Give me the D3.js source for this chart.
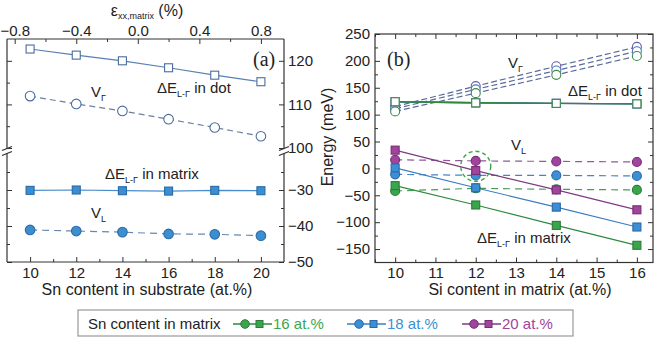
<!DOCTYPE html>
<html><head><meta charset="utf-8">
<script src="https://cdn.jsdelivr.net/npm/d3@7"></script>
<style>
body{margin:0;background:#fff}
text{font-family:"Liberation Sans",Arial,sans-serif;fill:#222}
</style>
</head><body>
<svg id="c" width="660" height="339"></svg>
<script>
// ---------- data: panel (a) ----------
const snSubstrate = [10, 12, 14, 16, 18, 20];
const gapDotA = [122.7, 121.3, 120.0, 118.4, 116.7, 115.2];
const vGammaA = [111.9, 110.1, 108.5, 106.6, 104.7, 102.7];
const gapMatrixA = [-30.1, -30.0, -30.2, -30.3, -30.1, -30.2];
const vLA = [-41.1, -41.4, -41.7, -42.2, -42.3, -42.7];
const strainTicks = [-0.8, -0.4, 0.0, 0.4, 0.8];
const subTicksA = [10, 12, 14, 16, 18, 20];
const upperTicksA = [100, 110, 120];
const lowerTicksA = [-50, -40, -30];

// ---------- data: panel (b) ----------
const siContent = [10, 12, 14, 16];
const snMatrix = ["16 at.%", "18 at.%", "20 at.%"];
const vGammaB16 = [106, 140, 174, 209];
const vGammaB18 = [111, 147, 182, 218];
const vGammaB20 = [115, 153, 190, 226];
const gapDotB16 = [124, 122, 121, 120];
const gapDotB18 = [124, 122, 121, 120];
const gapDotB20 = [124, 122, 121, 120];
const vLB16 = [-42, -37, -39, -40];
const vLB18 = [-11, -13, -13, -14];
const vLB20 = [16, 14, 13, 12];
const gapMatrixB16 = [-32, -68, -106, -143];
const gapMatrixB18 = [1, -36, -72, -109];
const gapMatrixB20 = [34, -4, -40, -77];
const energyTicksB = [-150, -100, -50, 0, 50, 100, 150, 200, 250];
const siTicksB = [10, 11, 12, 13, 14, 15, 16];

const svg = d3.select("#c");
const F = 15;

function styleAxis(g){
  g.select(".domain").remove();
  g.selectAll("line").attr("stroke","#333").attr("stroke-width",1);
  g.selectAll("text").attr("font-size",F).attr("fill","#222")
   .attr("font-family",'"Liberation Sans",Arial,sans-serif');
  return g;
}
function subLabel(x, y, main, sub, rest, size){
  size = size || F;
  const t = svg.append("text").attr("x",x).attr("y",y).attr("font-size",size);
  t.append("tspan").text(main);
  t.append("tspan").attr("dy",4).attr("font-size",size*0.6).text(sub);
  if (rest) t.append("tspan").attr("dy",-4).text(rest);
  return t;
}
function squares(g, xs, ys, sx, sy, s, fill, stroke){
  g.selectAll(null).data(xs.map((x,i)=>[x,ys[i]])).join("rect")
   .attr("x",d=>sx(d[0])-s/2).attr("y",d=>sy(d[1])-s/2)
   .attr("width",s).attr("height",s)
   .attr("fill",fill).attr("stroke",stroke).attr("stroke-width",1.1);
}
function circles(g, xs, ys, sx, sy, r, fill, stroke){
  g.selectAll(null).data(xs.map((x,i)=>[x,ys[i]])).join("circle")
   .attr("cx",d=>sx(d[0])).attr("cy",d=>sy(d[1])).attr("r",r)
   .attr("fill",fill).attr("stroke",stroke).attr("stroke-width",1.1);
}
function path(g, xs, ys, sx, sy, color, dash, w){
  const line = d3.line().x(d=>sx(d[0])).y(d=>sy(d[1]));
  g.append("path").datum(xs.map((x,i)=>[x,ys[i]])).attr("d",line)
   .attr("fill","none").attr("stroke",color).attr("stroke-width",w||1.2)
   .attr("stroke-dasharray",dash||null);
}

// ================= Panel (a) =================
const L = 7, R = 284, T = 39, B = 262;
const xA = d3.scaleLinear().domain([9, 21]).range([L, R]);
const xTopA = d3.scaleLinear().domain([-0.85, 0.95]).range([L, R]);
const yUp = d3.scaleLinear().domain([100, 125]).range([148, T]);
const yLo = d3.scaleLinear().domain([-50, -20]).range([B, 154]);

styleAxis(svg.append("g").attr("transform",`translate(0,${B})`)
  .call(d3.axisBottom(xA).tickValues(subTicksA).tickSize(-5).tickPadding(5).tickFormat(d3.format("d"))));
styleAxis(svg.append("g").attr("transform",`translate(0,${B})`)
  .call(d3.axisBottom(xA).tickValues([11,13,15,17,19]).tickSize(-3).tickFormat("")));
styleAxis(svg.append("g").attr("transform",`translate(0,${T})`)
  .call(d3.axisTop(xTopA).tickValues(strainTicks).tickSize(-5).tickPadding(3).tickFormat(d3.format(".1f"))));
styleAxis(svg.append("g").attr("transform",`translate(0,${T})`)
  .call(d3.axisTop(xTopA).tickValues([-0.6,-0.2,0.2,0.6]).tickSize(-3).tickFormat("")));
styleAxis(svg.append("g").attr("transform",`translate(${R},0)`)
  .call(d3.axisRight(yUp).tickValues(upperTicksA).tickSize(-5).tickPadding(4).tickFormat(d3.format("d"))));
styleAxis(svg.append("g").attr("transform",`translate(${R},0)`)
  .call(d3.axisRight(yUp).tickValues([105,115]).tickSize(-3).tickFormat("")));
styleAxis(svg.append("g").attr("transform",`translate(${R},0)`)
  .call(d3.axisRight(yLo).tickValues(lowerTicksA).tickSize(-5).tickPadding(4).tickFormat(d3.format("d"))));
styleAxis(svg.append("g").attr("transform",`translate(${R},0)`)
  .call(d3.axisRight(yLo).tickValues([-45,-35,-25]).tickSize(-3).tickFormat("")));
styleAxis(svg.append("g").attr("transform",`translate(${L},0)`)
  .call(d3.axisLeft(yUp).tickValues(upperTicksA).tickSize(-5).tickFormat("")));
styleAxis(svg.append("g").attr("transform",`translate(${L},0)`)
  .call(d3.axisLeft(yUp).tickValues([105,115]).tickSize(-3).tickFormat("")));
styleAxis(svg.append("g").attr("transform",`translate(${L},0)`)
  .call(d3.axisLeft(yLo).tickValues(lowerTicksA).tickSize(-5).tickFormat("")));
styleAxis(svg.append("g").attr("transform",`translate(${L},0)`)
  .call(d3.axisLeft(yLo).tickValues([-45,-35,-25]).tickSize(-3).tickFormat("")));

const fr = svg.append("g").attr("stroke","#333").attr("stroke-width",1.2).attr("fill","none");
fr.append("line").attr("x1",L).attr("x2",R).attr("y1",T).attr("y2",T);
fr.append("line").attr("x1",L).attr("x2",R).attr("y1",B).attr("y2",B);
[L,R].forEach(x=>{
  fr.append("line").attr("x1",x).attr("x2",x).attr("y1",T).attr("y2",149);
  fr.append("line").attr("x1",x).attr("x2",x).attr("y1",153.5).attr("y2",B);
  fr.append("line").attr("x1",x-5).attr("x2",x+5).attr("y1",150.5).attr("y2",146.5);
  fr.append("line").attr("x1",x-5).attr("x2",x+5).attr("y1",155.5).attr("y2",151.5);
});

const gA = svg.append("g");
const cOpen = "#4a6c9c", cFill = "#3b8fd0", cFillS = "#2a6aa5";
path(gA, snSubstrate, gapDotA, xA, yUp, "#5a7fb5");
path(gA, snSubstrate, vGammaA, xA, yUp, "#6a7fa5", "6,4");
path(gA, snSubstrate, gapMatrixA, xA, yLo, "#4a8ccc");
path(gA, snSubstrate, vLA, xA, yLo, "#6a86ad", "7,5");
squares(gA, snSubstrate, gapDotA, xA, yUp, 8, "#fff", cOpen);
circles(gA, snSubstrate, vGammaA, xA, yUp, 4.8, "#fff", cOpen);
squares(gA, snSubstrate, gapMatrixA, xA, yLo, 8, cFill, cFillS);
circles(gA, snSubstrate, vLA, xA, yLo, 4.8, cFill, cFillS);

svg.append("text").attr("x",253).attr("y",66).attr("font-size",20)
  .style("font-family",'"Liberation Serif","Times New Roman",serif').text("(a)");
subLabel(157, 93, "ΔE", "L-Γ", " in dot");
subLabel(91, 97, "V", "Γ");
subLabel(105, 179, "ΔE", "L-Γ", " in matrix");
subLabel(91, 218, "V", "L");

const tTop = svg.append("text").attr("x",147).attr("y",16).attr("text-anchor","middle").attr("font-size",16);
tTop.append("tspan").text("ε");
tTop.append("tspan").attr("dy",3).attr("font-size",9).text("xx,matrix");
tTop.append("tspan").attr("dy",-3).text(" (%)");
svg.append("text").attr("x",147).attr("y",295).attr("text-anchor","middle").attr("font-size",16)
  .text("Sn content in substrate (at.%)");

// ================= Panel (b) =================
const L2 = 375, R2 = 653, T2 = 34, B2 = 262.5;
const xB = d3.scaleLinear().domain([9.5, 16.4]).range([L2, R2]);
const yB = d3.scaleLinear().domain([-175, 250]).range([B2, T2]);
const halfTicks = [9.5,10.5,11.5,12.5,13.5,14.5,15.5];
const minorE = [-125,-75,-25,25,75,125,175,225];

styleAxis(svg.append("g").attr("transform",`translate(0,${B2})`)
  .call(d3.axisBottom(xB).tickValues(siTicksB).tickSize(-5).tickPadding(5).tickFormat(d3.format("d"))));
styleAxis(svg.append("g").attr("transform",`translate(0,${B2})`)
  .call(d3.axisBottom(xB).tickValues(halfTicks).tickSize(-3).tickFormat("")));
styleAxis(svg.append("g").attr("transform",`translate(0,${T2})`)
  .call(d3.axisTop(xB).tickValues(siTicksB).tickSize(-5).tickFormat("")));
styleAxis(svg.append("g").attr("transform",`translate(0,${T2})`)
  .call(d3.axisTop(xB).tickValues(halfTicks).tickSize(-3).tickFormat("")));
styleAxis(svg.append("g").attr("transform",`translate(${L2},0)`)
  .call(d3.axisLeft(yB).tickValues(energyTicksB).tickSize(-5).tickPadding(5).tickFormat(d3.format("d"))));
styleAxis(svg.append("g").attr("transform",`translate(${L2},0)`)
  .call(d3.axisLeft(yB).tickValues(minorE).tickSize(-3).tickFormat("")));
styleAxis(svg.append("g").attr("transform",`translate(${R2},0)`)
  .call(d3.axisRight(yB).tickValues(energyTicksB).tickSize(-5).tickFormat("")));
styleAxis(svg.append("g").attr("transform",`translate(${R2},0)`)
  .call(d3.axisRight(yB).tickValues(minorE).tickSize(-3).tickFormat("")));
svg.append("rect").attr("x",L2).attr("y",T2).attr("width",R2-L2).attr("height",B2-T2)
  .attr("fill","none").attr("stroke","#333").attr("stroke-width",1.2);

const colB = [
  {fill:"#3aa64c", stroke:"#2d7a3a", line:"#2f8a3e", dash:"#4a9a5a", open:"#3d8a4a"},
  {fill:"#3b8fd4", stroke:"#2a68a6", line:"#3a7fc0", dash:"#4a82c0", open:"#4a78b8"},
  {fill:"#a0449e", stroke:"#762d75", line:"#7e3a82", dash:"#8e5a98", open:"#6a5aa8"}
];
const vGammaB = [vGammaB16, vGammaB18, vGammaB20];
const gapDotB = [gapDotB16, gapDotB18, gapDotB20];
const vLB = [vLB16, vLB18, vLB20];
const gapMatrixB = [gapMatrixB16, gapMatrixB18, gapMatrixB20];

const gB = svg.append("g");
const order = [2, 1, 0];
order.forEach(i => path(gB, siContent, vGammaB[i], xB, yB, "#5a6a9a", "6,3"));
order.forEach(i => path(gB, siContent, gapDotB[i], xB, yB, colB[i].line, null, 1.4));
order.forEach(i => path(gB, siContent, vLB[i], xB, yB, colB[i].dash, "7,5"));
order.forEach(i => path(gB, siContent, gapMatrixB[i], xB, yB, colB[i].line));
order.forEach(i => circles(gB, siContent, vGammaB[i], xB, yB, 4.5, "#fff", colB[i].open));
order.forEach(i => squares(gB, siContent, gapDotB[i], xB, yB, 8, "#fff", colB[i].open));
order.forEach(i => circles(gB, siContent, vLB[i], xB, yB, 4.5, colB[i].fill, colB[i].stroke));
order.forEach(i => squares(gB, siContent, gapMatrixB[i], xB, yB, 8, colB[i].fill, colB[i].stroke));

gB.append("circle").attr("cx",xB(12)).attr("cy",yB(4)).attr("r",15)
  .attr("fill","none").attr("stroke","#3aa64c").attr("stroke-width",1.4).attr("stroke-dasharray","4,3");

svg.append("text").attr("x",387).attr("y",66).attr("font-size",20)
  .style("font-family",'"Liberation Serif","Times New Roman",serif').text("(b)");
subLabel(508, 68, "V", "Γ");
subLabel(568, 96, "ΔE", "L-Γ", " in dot");
subLabel(511, 150, "V", "L");
subLabel(477, 243, "ΔE", "L-Γ", " in matrix");

svg.append("text").attr("x",520).attr("y",295).attr("text-anchor","middle").attr("font-size",16)
  .text("Si content in matrix (at.%)");
svg.append("text").attr("transform","translate(333,137) rotate(-90)").attr("text-anchor","middle")
  .attr("font-size",16).text("Energy (meV)");

// ================= Legend =================
const lg = svg.append("g");
lg.append("rect").attr("x",78).attr("y",310).attr("width",495).attr("height",26)
  .attr("fill","#fff").attr("stroke","#999").attr("stroke-width",1.2);
lg.append("text").attr("x",88).attr("y",329).attr("font-size",F).text("Sn content in matrix");
const legX = [233, 347, 462];
snMatrix.forEach((name, i) => {
  const x0 = legX[i], c = colB[i];
  lg.append("line").attr("x1",x0).attr("x2",x0+39).attr("y1",324).attr("y2",324)
    .attr("stroke",c.line).attr("stroke-width",1.4);
  lg.append("circle").attr("cx",x0+12).attr("cy",324).attr("r",4.3)
    .attr("fill",c.fill).attr("stroke",c.stroke);
  lg.append("rect").attr("x",x0+23).attr("y",320.5).attr("width",7).attr("height",7)
    .attr("fill",c.fill).attr("stroke",c.stroke);
  lg.append("text").attr("x",x0+40).attr("y",329).attr("font-size",F)
    .style("fill",c.fill).text(name);
});
</script>
</body></html>
